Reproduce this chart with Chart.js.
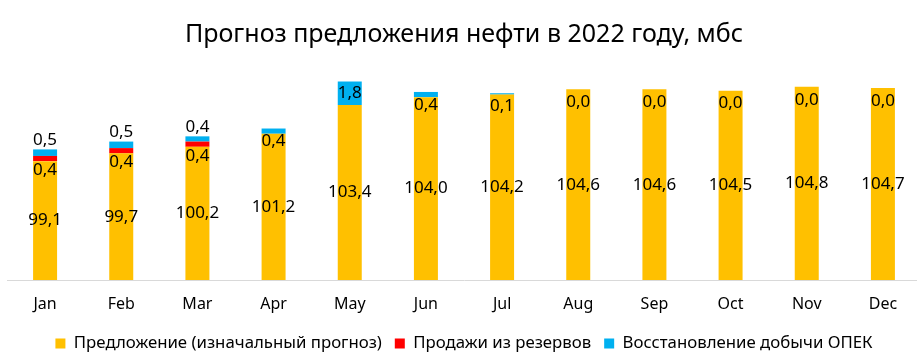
<!DOCTYPE html>
<html>
<head>
<meta charset="utf-8">
<script src="https://cdn.jsdelivr.net/npm/chart.js@4/dist/chart.umd.min.js"></script>
<style>
  html, body { margin: 0; padding: 0; background: #fff; overflow: hidden; }
  #wrap { width: 925px; height: 364px; }
</style>
</head>
<body>
<div id="wrap"><canvas id="oil-canvas"></canvas></div>
<script>
// Данные
const months = ['Jan', 'Feb', 'Mar', 'Apr', 'May', 'Jun', 'Jul', 'Aug', 'Sep', 'Oct', 'Nov', 'Dec'];
const supply = [99.1, 99.7, 100.2, 101.2, 103.4, 104.0, 104.2, 104.6, 104.6, 104.5, 104.8, 104.7];
const reserves = [0.4, 0.4, 0.4, null, null, null, null, null, null, null, null, null];
const opec = [0.5, 0.5, 0.4, 0.4, 1.8, 0.4, 0.1, 0.0, 0.0, 0.0, 0.0, 0.0];

const FONT = '"Noto Sans", "Open Sans", sans-serif';

// Подписи на сегментах (как в Excel)
const segmentLabels = {
    id: 'segmentLabels',
    afterDatasetsDraw(chart) {
        const ctx = chart.ctx;
        const bottom = chart.chartArea.bottom;
        ctx.save();
        ctx.font = '17px ' + FONT;
        ctx.fillStyle = '#000';
        ctx.textAlign = 'center';
        ctx.textBaseline = 'middle';
        chart.data.datasets.forEach((ds, di) => {
            const meta = chart.getDatasetMeta(di);
            meta.data.forEach((bar, i) => {
                const v = ds.data[i];
                if (v === null || v === undefined) return;
                const txt = v.toFixed(1).replace('.', ',');
                const base = Math.min(bar.base, bottom);
                const h = base - bar.y;
                let y;
                if (di === 0) {
                    y = (bar.y + base) / 2;
                } else if (di === 1) {
                    y = base + 9;
                } else if (reserves[i] !== null) {
                    y = bar.y - 9;
                } else if (h > 18) {
                    y = (bar.y + base) / 2;
                } else {
                    y = bar.y + 13;
                }
                ctx.fillText(txt, bar.x, y);
            });
        });
        ctx.restore();
    }
};

const config = {
    type: 'bar',
    data: {
        labels: months,
        datasets: [
            { label: 'Предложение (изначальный прогноз)', data: supply, backgroundColor: '#FFC000' },
            { label: 'Продажи из резервов', data: reserves, backgroundColor: '#FF0000' },
            { label: 'Восстановление добычи ОПЕК', data: opec, backgroundColor: '#00B0F0' }
        ]
    },
    options: {
        responsive: true,
        maintainAspectRatio: false,
        animation: false,
        datasets: {
            bar: { categoryPercentage: 1, barPercentage: 0.315 }
        },
        layout: { padding: { left: 7, right: 4, top: 0, bottom: 2 } },
        plugins: {
            title: {
                display: true,
                text: 'Прогноз предложения нефти в 2022 году, мбс',
                color: '#000',
                font: { family: FONT, size: 25, weight: 'normal' },
                padding: { top: 20, bottom: 8 }
            },
            legend: {
                position: 'bottom',
                labels: {
                    color: '#000',
                    font: { family: FONT, size: 16.8 },
                    boxWidth: 10,
                    boxHeight: 10,
                    padding: 13
                }
            },
            tooltip: { enabled: false }
        },
        scales: {
            x: {
                stacked: true,
                grid: { display: false },
                border: { color: '#d9d9d9', width: 1 },
                ticks: { color: '#000', font: { family: FONT, size: 16 }, padding: 7 },
                afterFit(scale) { scale.height += 1; }
            },
            y: {
                stacked: true,
                display: false,
                min: 90,
                max: 107
            }
        }
    },
    plugins: [segmentLabels]
};

window.onload = function() {
    const ctx = document.getElementById('oil-canvas').getContext('2d');
    new Chart(ctx, config);
};
</script>
</body>
</html>
